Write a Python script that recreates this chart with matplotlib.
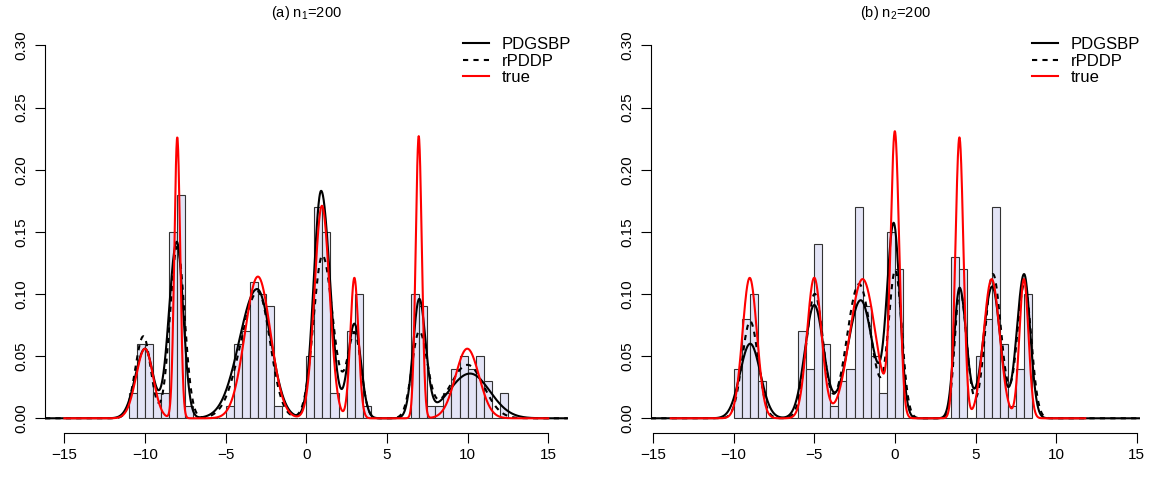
import numpy as np
import matplotlib.pyplot as plt

plt.rcParams['font.family'] = ['Liberation Sans', 'DejaVu Sans']
plt.rcParams['mathtext.fontset'] = 'custom'
plt.rcParams['mathtext.rm'] = 'Liberation Sans'

# histogram densities, bins of width 0.5
bin_w = 0.5
start_a = -11.0
hist_a = [0.02, 0.06, 0.06, 0.02, 0.02, 0.15, 0.18, 0.01,
          0, 0, 0, 0,
          0.01, 0.06, 0.07, 0.11, 0.10, 0.09, 0.01,
          0, 0, 0,
          0.05, 0.17, 0.15, 0.02, 0, 0.07, 0.10, 0.01,
          0, 0, 0, 0, 0,
          0.10, 0.09, 0.01, 0.01, 0.02, 0.04, 0.05, 0.04, 0.05, 0.03, 0, 0.02]
start_b = -10.0
hist_b = [0.04, 0.08, 0.10, 0.03,
          0, 0, 0, 0,
          0.07, 0.04, 0.14, 0.06,
          0.01, 0.03, 0.04, 0.17, 0.09, 0.05,
          0.02, 0.15, 0.12,
          0, 0, 0, 0, 0, 0,
          0.13, 0.12, 0,
          0.05, 0.08, 0.17, 0.06, 0.01, 0.04, 0.10]

# density curves: bump centre, peak height, left / right spread
true_a = dict(c=[-10.0, -8.0, -3.0, 0.97, 2.98, 6.97, 9.98],
              h=[0.056, 0.226, 0.114, 0.171, 0.113, 0.227, 0.056],
              sl=[0.55, 0.18, 0.8, 0.46, 0.25, 0.19, 0.73],
              sr=[0.5, 0.18, 0.78, 0.47, 0.25, 0.19, 0.73])
pdgsbp_a = dict(c=[-10.0, -8.03, -3.05, 0.92, 2.98, 7.0, 10.15],
                h=[0.056, 0.142, 0.104, 0.183, 0.076, 0.094, 0.036],
                sl=[0.6, 0.48, 1.1, 0.46, 0.4, 0.38, 1.32],
                sr=[0.5, 0.4, 0.85, 0.55, 0.4, 0.4, 1.23])
rpddp_a = dict(c=[-10.1, -8.0, -3.0, 1.0, 3.0, 7.0, 10.0],
               h=[0.066, 0.138, 0.102, 0.131, 0.068, 0.069, 0.043],
               sl=[0.5, 0.45, 1.05, 0.55, 0.45, 0.45, 1.1],
               sr=[0.45, 0.45, 0.75, 0.65, 0.4, 0.5, 1.0])

true_b = dict(c=[-9.0, -5.0, -2.0, 0.0, 4.0, 6.0, 8.0],
              h=[0.113, 0.113, 0.112, 0.226, 0.226, 0.112, 0.112],
              sl=[0.45, 0.45, 0.8, 0.26, 0.25, 0.5, 0.28],
              sr=[0.45, 0.45, 0.8, 0.27, 0.25, 0.5, 0.28])
pdgsbp_b = dict(c=[-8.97, -5.0, -2.12, -0.07, 4.01, 6.03, 8.01],
                h=[0.06, 0.091, 0.095, 0.155, 0.105, 0.106, 0.116],
                sl=[0.63, 0.58, 0.8, 0.42, 0.34, 0.55, 0.45],
                sr=[0.63, 0.58, 0.75, 0.38, 0.42, 0.5, 0.38])
rpddp_b = dict(c=[-8.97, -4.97, -2.22, 0.03, 4.03, 6.08, 8.03],
               h=[0.078, 0.1, 0.108, 0.118, 0.103, 0.116, 0.108],
               sl=[0.5, 0.52, 0.75, 0.42, 0.32, 0.48, 0.45],
               sr=[0.5, 0.52, 0.75, 0.4, 0.42, 0.5, 0.42])


def curve(x, p):
    y = np.zeros_like(x)
    for c, h, sl, sr in zip(p['c'], p['h'], p['sl'], p['sr']):
        s = np.where(x < c, sl, sr)
        y += h * np.exp(-0.5 * ((x - c) / s) ** 2)
    return y


fig = plt.figure(figsize=(11.73, 4.79), dpi=100)
W, H = 1173.0, 479.0
bot = (H - 433.2) / H
hgt = 402.7 / H
px = 16.13  # pixels per x unit

# left px, right px, xlim, true-curve range, hist, curves, title, legend right px
panels = [
    (45.0, 567.6, (-16.2, 16.2), (-15, 15), start_a, hist_a, true_a, pdgsbp_a, rpddp_a,
     r'(a) n$_1$=200', 571.0),
    (651.0, 1140.0, (-15.12, -15.12 + 489.0 / px), (-13.9, 11.8), start_b, hist_b,
     true_b, pdgsbp_b, rpddp_b, r'(b) n$_2$=200', 1140.0),
]

x_est = np.linspace(-17, 17, 2000)

for (l, r, xlim, trng, start, hist, tr, pd, rp, title, leg_r) in panels:
    ax = fig.add_axes([l / W, bot, (r - l) / W, hgt])
    lefts = start + bin_w * np.arange(len(hist))
    ax.bar(lefts, hist, width=bin_w, align='edge', color='#E3E4F6',
           edgecolor='#333333', linewidth=0.8, zorder=1)
    x_true = np.linspace(trng[0], trng[1], 2000)
    ax.plot(x_est, curve(x_est, pd), color='black', lw=1.5, label='PDGSBP', zorder=3)
    ax.plot(x_est, curve(x_est, rp), color='black', lw=1.5, ls=(0, (2.5, 2.5)),
            label='rPDDP', zorder=3)
    ax.plot(x_true, curve(x_true, tr), color='red', lw=1.5, label='true', zorder=4)

    ax.set_xlim(*xlim)
    ax.set_ylim(-0.012, 0.312)
    for s in ['top', 'right']:
        ax.spines[s].set_visible(False)
    ax.spines['left'].set_bounds(0, 0.3)
    ax.spines['bottom'].set_bounds(-15, 15)
    ax.set_xticks([-15, -10, -5, 0, 5, 10, 15])
    ax.set_xticklabels(['\u221215', '\u221210', '\u22125', '0', '5', '10', '15'])
    ax.set_yticks([0, 0.05, 0.10, 0.15, 0.20, 0.25, 0.30])
    ax.set_yticklabels(['0.00', '0.05', '0.10', '0.15', '0.20', '0.25', '0.30'],
                       rotation=90, va='center')
    ax.tick_params(direction='out', length=7, width=0.8, labelsize=11, pad=4)
    ax.tick_params(axis='y', pad=5)
    for s in ['left', 'bottom']:
        ax.spines[s].set_linewidth(0.8)
        ax.spines[s].set_clip_on(False)

    ax.legend(loc='upper right', bbox_to_anchor=(leg_r / W, 1 - 37.0 / H),
              bbox_transform=fig.transFigure, frameon=False, fontsize=12,
              handlelength=1.56, handletextpad=0.78, labelspacing=0.1,
              borderpad=0, borderaxespad=0)
    fig.text((l + r) / 2 / W, 1 - 12.5 / H, title, ha='center', va='center',
             fontsize=10.5)

fig.savefig('out.png', dpi=100)
